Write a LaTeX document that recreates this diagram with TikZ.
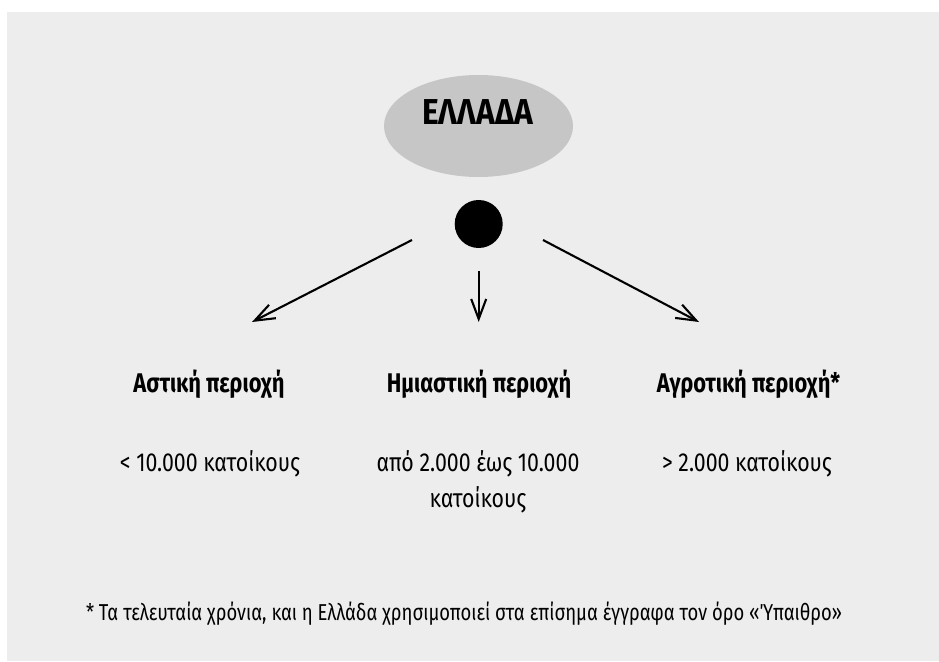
\documentclass[tikz,border=0pt]{standalone}
\usepackage{fontspec}
\setmainfont{Fira Sans}[FakeStretch=0.82]
\newfontfamily\headfont{Fira Sans}[FakeStretch=0.81]
\newfontfamily\titlefont{Fira Sans}[FakeStretch=0.88]
\newfontfamily\footfont{Fira Sans}[FakeStretch=0.80]
\usetikzlibrary{arrows.meta,shapes.geometric}
\definecolor{panel}{HTML}{EDEDED}
\definecolor{blob}{HTML}{C6C6C6}
\tikzset{
  arr/.style={line width=2.1pt,-{Straight Barb[length=20pt,width=15pt,line width=2.1pt]}},
  head/.style={anchor=base,inner sep=0pt,font=\headfont\bfseries\fontsize{27}{30}\selectfont},
  body/.style={anchor=base,inner sep=0pt,font=\fontsize{26}{36}\selectfont,align=center},
  foot/.style={anchor=base,inner sep=0pt,font=\footfont\fontsize{23}{26}\selectfont},
}
\begin{document}
\begin{tikzpicture}[x=1pt,y=-1pt]
\useasboundingbox (0,0) rectangle (939,661);
\fill[panel] (7,12) rectangle (939,661);
\node[ellipse,fill=blob,minimum width=189pt,minimum height=102pt,inner sep=0pt] (greece) at (478.5,126) {};
\node[anchor=base,inner sep=0pt,font=\titlefont\bfseries\fontsize{36}{40}\selectfont] (title) at (477.5,124) {ΕΛΛΑΔΑ};
\node[circle,fill=black,minimum size=48pt,inner sep=0pt] (hub) at (478.7,224) {};
\coordinate (s1) at (412,240);
\coordinate (e1) at (252,322);
\coordinate (s2) at (478.7,271);
\coordinate (e2) at (478.7,322);
\coordinate (s3) at (543,240);
\coordinate (e3) at (699,322);
\draw[arr] (s1) -- (e1);
\draw[arr] (s2) -- (e2);
\draw[arr] (s3) -- (e3);
\node[head] (h1) at (209,392.5) {Αστική περιοχή};
\node[head] (h2) at (479,392.5) {Ημιαστική περιοχή};
\node[head] (h3) at (748.5,392.5) {Αγροτική περιοχή*};
\node[body] (b1) at (210,471) {< 10.000 κατοίκους};
\node[body] (b2) at (478,471) {από 2.000 έως 10.000};
\node[body] (b2b) at (478,507) {κατοίκους};
\node[body] (b3) at (747,471) {> 2.000 κατοίκους};
\node[foot] (fn) at (464,620) {* Τα τελευταία χρόνια, και η Ελλάδα χρησιμοποιεί στα επίσημα έγγραφα τον όρο «Ύπαιθρο»};
\end{tikzpicture}
\end{document}
